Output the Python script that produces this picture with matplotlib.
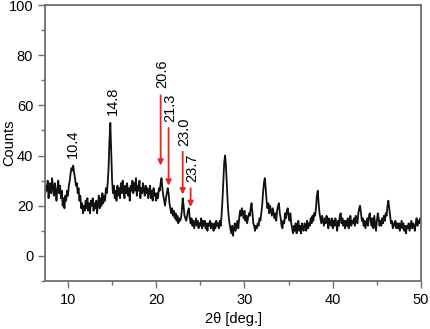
import matplotlib
matplotlib.use("Agg")
import matplotlib.pyplot as plt
import numpy as np

plt.rcParams['font.family'] = ['Liberation Sans', 'DejaVu Sans']

# XRD pattern, 0.1 deg steps from 7.4 to 50.0
counts = [
    24, 28, 26, 30, 23, 27, 29, 25, 31, 27, 24, 29, 26, 22, 27, 30, 25, 28, 23, 26,  # 7.4
    20, 23, 19, 24, 22, 26, 24, 28, 30, 33, 35, 34, 36, 33, 31, 28, 29, 25, 27, 22,  # 9.4
    24, 19, 21, 17, 20, 18, 22, 19, 23, 18, 21, 17, 22, 20, 23, 18, 21, 19, 22, 17,  # 11.4
    21, 24, 19, 23, 20, 25, 21, 24, 22, 27, 25, 29, 35, 46, 53, 41, 30, 25, 28, 23,  # 13.4
    26, 22, 28, 24, 27, 23, 29, 25, 30, 26, 23, 28, 25, 29, 24, 27, 22, 28, 26, 30,  # 15.4
    25, 29, 26, 31, 24, 28, 26, 30, 23, 27, 25, 29, 26, 24, 28, 25, 27, 23, 26, 28,  # 17.4
    23, 26, 22, 27, 24, 25, 22, 25, 23, 27, 26, 29, 31, 27, 24, 22, 20, 23, 25, 27,  # 19.4
    25, 21, 19, 17, 19, 16, 18, 15, 17, 14, 16, 13, 15, 14, 15, 18, 23, 20, 16, 15,  # 21.4
    14, 16, 18, 19, 15, 13, 15, 12, 14, 11, 13, 15, 12, 14, 11, 13, 12, 15, 11, 14,  # 23.4
    12, 14, 11, 13, 10, 13, 12, 14, 11, 13, 12, 10, 13, 11, 14, 12, 13, 11, 14, 12,  # 25.4
    16, 22, 30, 37, 40, 36, 28, 21, 16, 13, 11, 9, 12, 8, 11, 13, 10, 12, 14, 11,    # 27.4
    15, 18, 16, 19, 17, 15, 18, 14, 16, 13, 15, 17, 16, 19, 21, 17, 13, 12, 10, 12,  # 29.4
    11, 13, 12, 15, 14, 17, 20, 25, 29, 31, 27, 22, 19, 21, 17, 20, 18, 16, 19, 17,  # 31.4
    15, 17, 14, 18, 20, 21, 17, 15, 12, 11, 14, 13, 17, 15, 18, 19, 16, 14, 17, 13,  # 33.4
    11, 9, 12, 10, 13, 9, 11, 14, 10, 12, 9, 13, 11, 10, 13, 12, 10, 14, 11, 13,     # 35.4
    12, 15, 13, 16, 14, 17, 16, 19, 24, 26, 21, 17, 15, 13, 16, 14, 12, 15, 13, 16,  # 37.4
    14, 11, 15, 13, 12, 15, 11, 14, 12, 15, 13, 10, 14, 12, 16, 17, 13, 15, 12, 14,  # 39.4
    11, 14, 12, 15, 11, 13, 16, 12, 14, 13, 15, 12, 16, 14, 13, 17, 19, 20, 17, 14,  # 41.4
    15, 12, 14, 11, 13, 15, 12, 16, 17, 14, 12, 15, 11, 16, 13, 10, 14, 17, 15, 12,  # 43.4
    14, 12, 15, 13, 16, 14, 17, 16, 20, 22, 19, 16, 13, 14, 11, 13, 12, 14, 11, 13,  # 45.4
    11, 13, 10, 12, 14, 11, 13, 10, 12, 9, 12, 11, 13, 10, 12, 14, 11, 13, 12, 10,   # 47.4
    13, 15, 12, 14, 13, 15, 14,                                                      # 49.4
]
two_theta = np.round(np.linspace(7.4, 50.0, len(counts)), 1)

# black peak labels
peak_pos = [10.55, 15.1]
peak_lbl_y = [39, 56]
peak_labels = ["10.4", "14.8"]

# red arrows: x, tail y, head y, label y
arrow_x = [20.5, 21.4, 23.0, 23.9]
arrow_tail = [64, 51, 41.5, 27]
arrow_head = [36, 28, 24.5, 19.5]
arrow_lbl_y = [67, 53.5, 44, 29.5]
arrow_labels = ["20.6", "21.3", "23.0", "23.7"]

fs = 10.5

fig = plt.figure(figsize=(4.3, 3.29), dpi=100)
ax = fig.add_axes([0.1047, 0.1459, 0.8744, 0.8389])

ax.plot(two_theta, counts, color='#111111', lw=1.3)

for x, y, t in zip(peak_pos, peak_lbl_y, peak_labels):
    ax.text(x, y, t, rotation=90, ha='center', va='bottom', fontsize=fs)

red = '#e8261e'
for x, yt, yh, yl, t in zip(arrow_x, arrow_tail, arrow_head, arrow_lbl_y, arrow_labels):
    ax.annotate('', xy=(x, yh), xytext=(x, yt),
                arrowprops=dict(arrowstyle='-|>', color=red, lw=1.3,
                                mutation_scale=8, shrinkA=0, shrinkB=0))
    ax.text(x + 0.15, yl, t, rotation=90, ha='center', va='bottom', fontsize=fs)

ax.set_xlim(7.4, 50)
ax.set_ylim(-10, 100)
ax.set_xticks([10, 20, 30, 40, 50])
ax.set_xticks([15, 25, 35, 45], minor=True)
ax.set_yticks([0, 20, 40, 60, 80, 100])
ax.set_yticks([-10, 10, 30, 50, 70, 90], minor=True)

spine_col = '#6e6e6e'
for s in ax.spines.values():
    s.set_color(spine_col)
    s.set_linewidth(1.3)
ax.tick_params(which='both', direction='out', color=spine_col, width=1.0,
               labelsize=fs, top=False, right=False)
ax.tick_params(which='major', length=5)
ax.tick_params(which='minor', length=3)

ax.set_xlabel('2\u03b8 [deg.]', fontsize=fs, labelpad=4)
ax.set_ylabel('Counts', fontsize=fs)
ax.yaxis.set_label_coords(-0.077, 0.5)

fig.savefig('out.png', dpi=100)
